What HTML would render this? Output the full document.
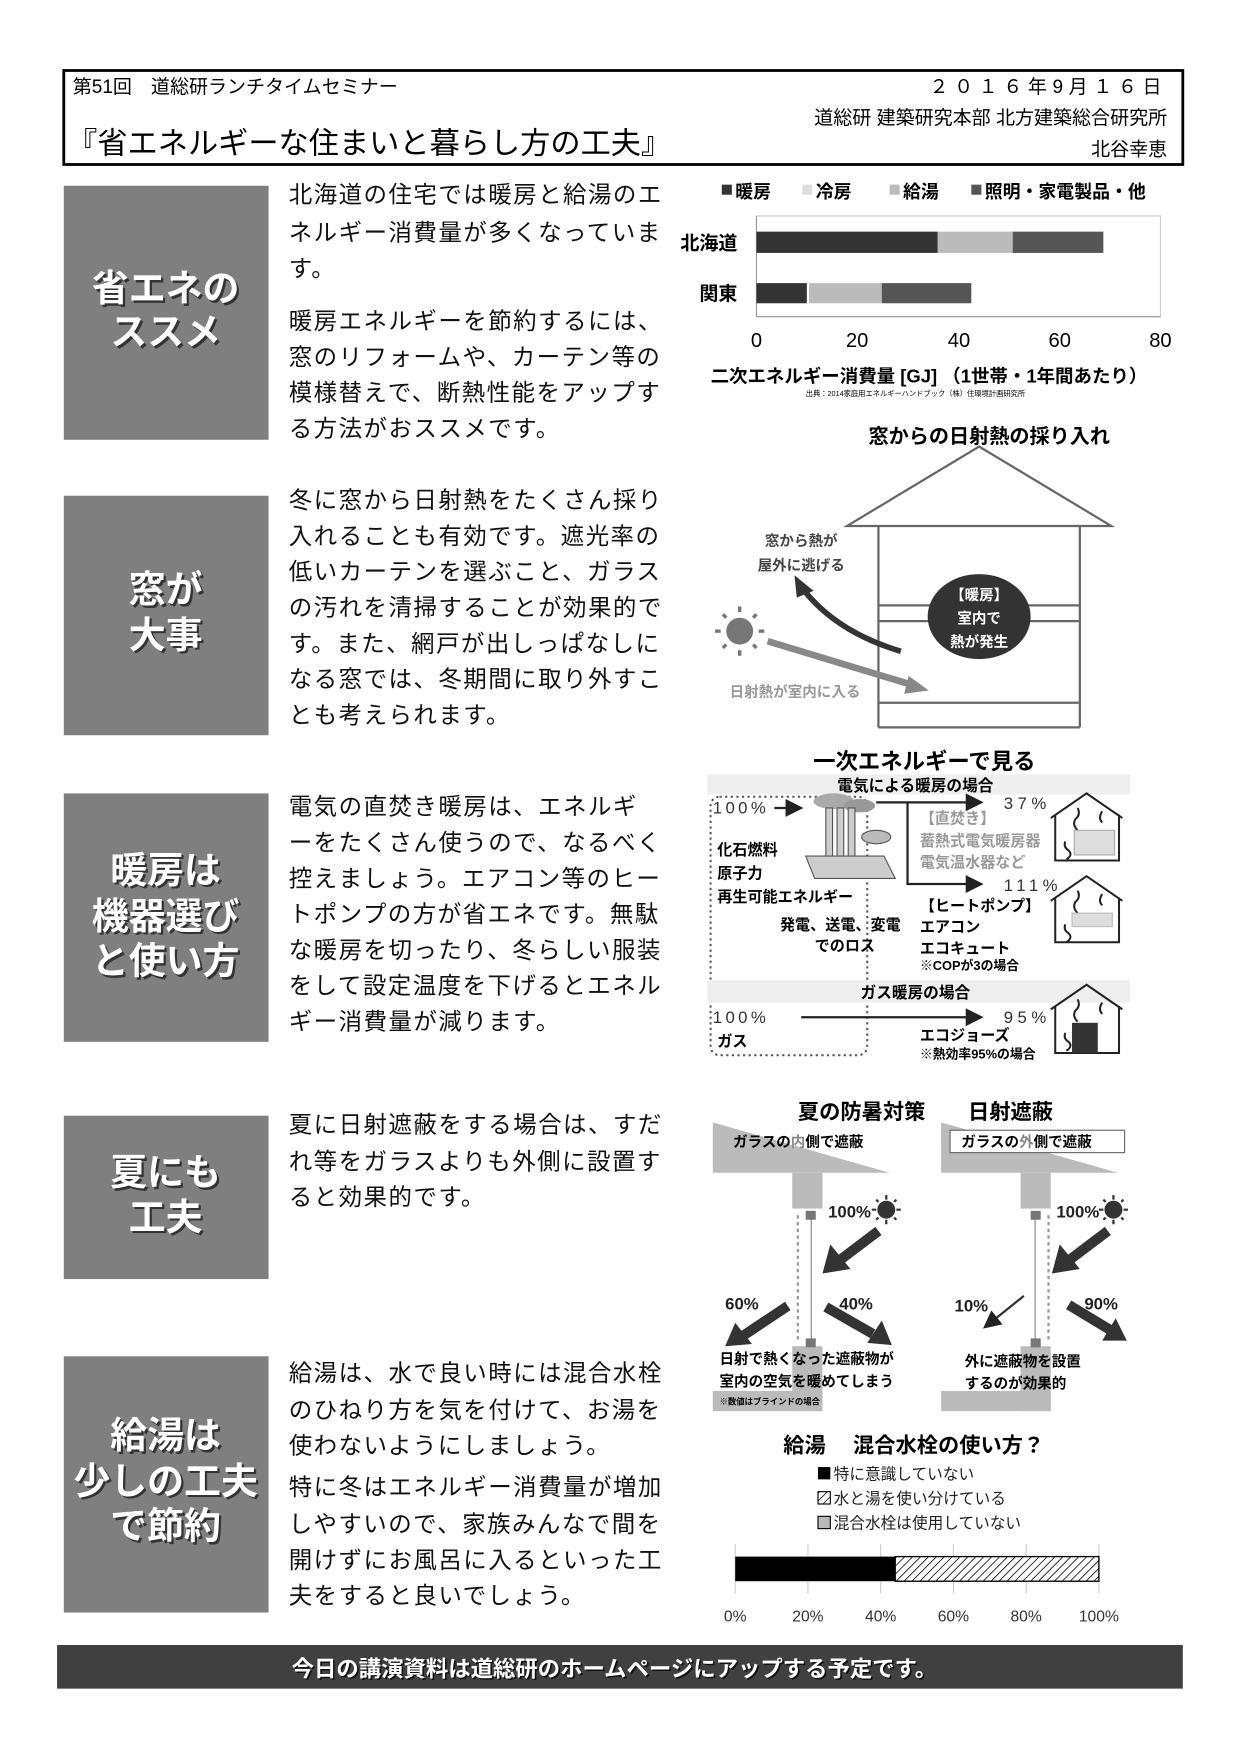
<!DOCTYPE html>
<html><head><meta charset="utf-8"><style>
html,body{margin:0;padding:0;background:#fff;}
svg{display:block;}
text{font-family:"Liberation Sans","Noto Sans CJK JP",sans-serif;}
.b{font-weight:bold;}
.p{font-size:21px;letter-spacing:1.3px;fill:#111;}
.h{font-size:33px;font-weight:bold;fill:#fff;text-anchor:middle;}
.hs{font-size:33px;font-weight:bold;fill:#333;text-anchor:middle;}
</style></head><body>
<svg width="1241" height="1755" viewBox="0 0 1109 1568.3" preserveAspectRatio="none" xmlns="http://www.w3.org/2000/svg">
<defs>
<pattern id="hat" width="5" height="5" patternUnits="userSpaceOnUse" patternTransform="rotate(45)">
<rect width="5" height="5" fill="#fff"/><line x1="0" y1="0" x2="0" y2="5" stroke="#000" stroke-width="1.4"/></pattern>
<marker id="ar" markerWidth="8" markerHeight="8" refX="7" refY="4" orient="auto"><path d="M0,0 L8,4 L0,8 z" fill="#222"/></marker>
</defs>
<!-- header -->
<rect x="57" y="63" width="1000" height="84" fill="none" stroke="#000" stroke-width="2.5"/>
<text x="65" y="83" font-size="17">第51回　道総研ランチタイムセミナー</text>
<text x="1043" y="83" font-size="17" text-anchor="end" letter-spacing="5">２０１６年9月１６日</text>
<text x="1043" y="111" font-size="17" text-anchor="end">道総研 建築研究本部 北方建築総合研究所</text>
<text x="1043" y="139" font-size="17" text-anchor="end">北谷幸恵</text>
<text x="60" y="137" font-size="27">『省エネルギーな住まいと暮らし方の工夫』</text>

<!-- left boxes -->
<g fill="#7f7f7f">
<rect x="57" y="166" width="183" height="227"/>
<rect x="57" y="443" width="183" height="214"/>
<rect x="57" y="709" width="183" height="222"/>
<rect x="57" y="997" width="183" height="146"/>
<rect x="57" y="1212" width="183" height="229"/>
</g>
<g class="hs" transform="translate(2,2)">
<text x="148" y="269">省エネの</text><text x="148" y="308">ススメ</text>
<text x="148" y="538">窓が</text><text x="148" y="579">大事</text>
<text x="148" y="789">暖房は</text><text x="148" y="830">機器選び</text><text x="148" y="870">と使い方</text>
<text x="148" y="1059">夏にも</text><text x="148" y="1099">工夫</text>
<text x="148" y="1294">給湯は</text><text x="148" y="1335">少しの工夫</text><text x="148" y="1375">で節約</text>
</g>
<g class="h">
<text x="148" y="269">省エネの</text><text x="148" y="308">ススメ</text>
<text x="148" y="538">窓が</text><text x="148" y="579">大事</text>
<text x="148" y="789">暖房は</text><text x="148" y="830">機器選び</text><text x="148" y="870">と使い方</text>
<text x="148" y="1059">夏にも</text><text x="148" y="1099">工夫</text>
<text x="148" y="1294">給湯は</text><text x="148" y="1335">少しの工夫</text><text x="148" y="1375">で節約</text>
</g>

<!-- paragraphs -->
<g class="p">
<text x="258" y="181">北海道の住宅では暖房と給湯のエ</text>
<text x="258" y="215">ネルギー消費量が多くなっていま</text>
<text x="258" y="247">す。</text>
<text x="258" y="294">暖房エネルギーを節約するには、</text>
<text x="258" y="326">窓のリフォームや、カーテン等の</text>
<text x="258" y="358">模様替えで、断熱性能をアップす</text>
<text x="258" y="390">る方法がおススメです。</text>

<text x="258" y="454">冬に窓から日射熱をたくさん採り</text>
<text x="258" y="486">入れることも有効です。遮光率の</text>
<text x="258" y="518">低いカーテンを選ぶこと、ガラス</text>
<text x="258" y="550">の汚れを清掃することが効果的で</text>
<text x="258" y="582">す。また、網戸が出しっぱなしに</text>
<text x="258" y="614">なる窓では、冬期間に取り外すこ</text>
<text x="258" y="646">とも考えられます。</text>

<text x="258" y="728">電気の直焚き暖房は、エネルギ</text>
<text x="258" y="760">ーをたくさん使うので、なるべく</text>
<text x="258" y="792">控えましょう。エアコン等のヒー</text>
<text x="258" y="824">トポンプの方が省エネです。無駄</text>
<text x="258" y="856">な暖房を切ったり、冬らしい服装</text>
<text x="258" y="888">をして設定温度を下げるとエネル</text>
<text x="258" y="920">ギー消費量が減ります。</text>

<text x="258" y="1012">夏に日射遮蔽をする場合は、すだ</text>
<text x="258" y="1045">れ等をガラスよりも外側に設置す</text>
<text x="258" y="1077">ると効果的です。</text>

<text x="258" y="1234">給湯は、水で良い時には混合水栓</text>
<text x="258" y="1267">のひねり方を気を付けて、お湯を</text>
<text x="258" y="1299">使わないようにしましょう。</text>
<text x="258" y="1336">特に冬はエネルギー消費量が増加</text>
<text x="258" y="1369">しやすいので、家族みんなで間を</text>
<text x="258" y="1401">開けずにお風呂に入るといった工</text>
<text x="258" y="1433">夫をすると良いでしょう。</text>
</g>

<!-- chart 1 -->
<g font-size="16" class="b">
<rect x="645" y="165" width="9" height="9" fill="#333"/><text x="657" y="177">暖房</text>
<rect x="717" y="165" width="9" height="9" fill="#ddd"/><text x="729" y="177">冷房</text>
<rect x="795" y="165" width="9" height="9" fill="#bbb"/><text x="807" y="177">給湯</text>
<rect x="868" y="165" width="9" height="9" fill="#555"/><text x="880" y="177">照明・家電製品・他</text>
</g>
<rect x="676" y="193" width="361" height="90" fill="none" stroke="#ccc"/>
<line x1="676" y1="193" x2="676" y2="283" stroke="#999"/>
<line x1="676" y1="283" x2="1037" y2="283" stroke="#999"/>
<rect x="676" y="207" width="162" height="19" fill="#333"/>
<rect x="838" y="207" width="67" height="19" fill="#bbb"/>
<rect x="905" y="207" width="81" height="19" fill="#555"/>
<rect x="676" y="253" width="45" height="18" fill="#333"/>
<rect x="723" y="253" width="65" height="18" fill="#bbb"/>
<rect x="788" y="253" width="80" height="18" fill="#555"/>
<g font-size="17" class="b"><text x="608" y="223">北海道</text><text x="625" y="268">関東</text></g>
<g font-size="18" text-anchor="middle"><text x="676" y="310">0</text><text x="766" y="310">20</text><text x="857" y="310">40</text><text x="947" y="310">60</text><text x="1037" y="310">80</text></g>
<text x="635" y="342" font-size="16.5" class="b">二次エネルギー消費量 [GJ] （1世帯・1年間あたり）</text>
<text x="720" y="354" font-size="6.5">出典：2014家庭用エネルギーハンドブック（株）住環境計画研究所</text>

<!-- window heat diagram -->
<text x="884" y="396" font-size="18" class="b" text-anchor="middle">窓からの日射熱の採り入れ</text>
<g stroke="#666" stroke-width="2" fill="none">
<path d="M757,470 L875,399 L993,470 Z"/>
<line x1="785" y1="470" x2="785" y2="650"/><line x1="965" y1="470" x2="965" y2="650"/>
<line x1="785" y1="541" x2="965" y2="541"/><line x1="785" y1="555" x2="965" y2="555"/>
<line x1="785" y1="628" x2="965" y2="628"/><line x1="785" y1="650" x2="965" y2="650"/>
</g>
<ellipse cx="875" cy="551" rx="46" ry="38" fill="#333"/>
<g fill="#fff" font-size="13" class="b" text-anchor="middle"><text x="875" y="536">【暖房】</text><text x="875" y="557">室内で</text><text x="875" y="578">熱が発生</text></g>
<g font-size="13" class="b" fill="#444" text-anchor="middle"><text x="716" y="488">窓から熱が</text><text x="716" y="510">屋外に逃げる</text></g>
<circle cx="661" cy="564" r="12" fill="#777"/>
<g stroke="#777" stroke-width="3"><line x1="661" y1="542" x2="661" y2="547"/><line x1="661" y1="581" x2="661" y2="586"/><line x1="639" y1="564" x2="644" y2="564"/><line x1="678" y1="564" x2="683" y2="564"/><line x1="646" y1="549" x2="649" y2="552"/><line x1="673" y1="576" x2="676" y2="579"/><line x1="646" y1="579" x2="649" y2="576"/><line x1="673" y1="552" x2="676" y2="549"/></g>
<path d="M805,582 Q748,565 718,527" fill="none" stroke="#333" stroke-width="5"/>
<path d="M710,514 L727,528 L712,534 Z" fill="#333"/>
<line x1="686" y1="573" x2="815" y2="612" stroke="#888" stroke-width="6"/>
<path d="M830,617 L812,604 L808,620 Z" fill="#888"/>
<text x="652" y="623" font-size="13" class="b" fill="#999">日射熱が室内に入る</text>

<!-- primary energy -->
<text x="826" y="687" font-size="20" class="b" text-anchor="middle">一次エネルギーで見る</text>
<rect x="632" y="692" width="378" height="18" fill="#eee"/>
<text x="818" y="707" font-size="14" class="b" text-anchor="middle">電気による暖房の場合</text>
<rect x="635" y="712" width="140" height="231" rx="8" fill="none" stroke="#555" stroke-width="1.8" stroke-dasharray="2,3"/>
<text x="637" y="727" font-size="15" letter-spacing="3" fill="#333">100%</text>
<line x1="692" y1="722" x2="716" y2="722" stroke="#222" stroke-width="2" marker-end="url(#ar)"/>
<!-- factory -->
<ellipse cx="745" cy="716" rx="18" ry="7" fill="#aaa"/><ellipse cx="768" cy="720" rx="14" ry="6" fill="#999"/>
<g fill="#ccc" stroke="#555"><rect x="738" y="722" width="6" height="45"/><rect x="748" y="722" width="6" height="45"/><rect x="758" y="722" width="6" height="45"/>
<path d="M720,765 L790,765 L800,785 L728,785 Z"/></g>
<ellipse cx="783" cy="748" rx="13" ry="6" fill="#bbb" stroke="#555"/>
<line x1="783" y1="717" x2="877" y2="717" stroke="#222" stroke-width="2" marker-end="url(#ar)"/>
<path d="M811,717 L811,790 L877,790" fill="none" stroke="#222" stroke-width="2" marker-end="url(#ar)"/>
<text x="897" y="723" font-size="15" letter-spacing="4" fill="#333">37%</text>
<text x="897" y="796" font-size="15" letter-spacing="4" fill="#333">111%</text>
<g font-size="13.5" class="b" fill="#999"><text x="822" y="736">【直焚き】</text><text x="822" y="756">蓄熱式電気暖房器</text><text x="822" y="775">電気温水器など</text></g>
<g font-size="13.5" class="b"><text x="641" y="764">化石燃料</text><text x="641" y="785">原子力</text><text x="641" y="806">再生可能エネルギー</text>
<text x="697" y="831">発電、送電、変電</text><text x="728" y="850">でのロス</text>
<text x="822" y="814">【ヒートポンプ】</text><text x="822" y="833">エアコン</text><text x="822" y="852">エコキュート</text></g>
<text x="822" y="867" font-size="11.5" class="b">※COPが3の場合</text>
<rect x="632" y="876" width="378" height="20" fill="#eee"/>
<text x="818" y="892" font-size="14" class="b" text-anchor="middle">ガス暖房の場合</text>
<text x="637" y="914" font-size="15" letter-spacing="3" fill="#333">100%</text>
<text x="641" y="935" font-size="13.5" class="b">ガス</text>
<line x1="716" y1="909" x2="877" y2="909" stroke="#222" stroke-width="2" marker-end="url(#ar)"/>
<text x="897" y="914" font-size="15" letter-spacing="4" fill="#333">95%</text>
<text x="822" y="930" font-size="13.5" class="b">エコジョーズ</text>
<text x="822" y="946" font-size="11.5" class="b">※熱効率95%の場合</text>
<g fill="none" stroke="#222" stroke-width="1.8">
<path d="M939,731 L971,709 L1003,731 M943,728 L943,769 L1000,769 L1000,728"/>
<path d="M939,805 L971,783 L1003,805 M943,802 L943,842 L1000,842 L1000,802"/>
<path d="M939,902 L971,880 L1003,902 M943,899 L943,941 L1000,941 L1000,899"/>
<path d="M963,722 q3,6 -2,10 q-3,5 2,10 M985,725 q-4,6 0,10 M952,752 q-2,5 3,8 q4,4 -2,8"/>
<path d="M963,796 q3,6 -2,10 q-3,5 2,10 M985,799 q-4,6 0,10 M952,826 q-2,5 3,8 q4,4 -2,8"/>
<path d="M963,893 q3,6 -2,10 q-3,5 2,10 M985,896 q-4,6 0,10 M952,923 q-2,5 3,8 q4,4 -2,8"/>
</g>
<rect x="960" y="742" width="36" height="22" fill="#ddd" stroke="#aaa"/>
<rect x="958" y="816" width="36" height="12" fill="#ddd" stroke="#bbb"/>
<rect x="958" y="914" width="23" height="27" fill="#333"/>

<!-- summer -->
<text x="770" y="1000" font-size="19" class="b" text-anchor="middle">夏の防暑対策</text>
<text x="903" y="1000" font-size="19" class="b" text-anchor="middle">日射遮蔽</text>
<g fill="#bbb">
<path d="M637,1003 L637,1048 L795,1048 Z"/><rect x="708" y="1048" width="27" height="32"/>
<rect x="637" y="1243" width="98" height="18"/><rect x="708" y="1203" width="27" height="58"/>
<path d="M841,1003 L841,1048 L999,1048 Z"/><rect x="912" y="1048" width="27" height="32"/>
<rect x="841" y="1243" width="98" height="18"/><rect x="912" y="1203" width="27" height="58"/>
</g>
<text x="655" y="1025" font-size="13" class="b">ガラスの<tspan fill="#888">内</tspan>側で遮蔽</text>
<rect x="849" y="1010" width="156" height="20" fill="#fff" stroke="#666"/>
<text x="859" y="1025" font-size="13" class="b">ガラスの<tspan fill="#888">外</tspan>側で遮蔽</text>
<g stroke="#999" stroke-width="2">
<line x1="713" y1="1086" x2="713" y2="1200" stroke-dasharray="3,3"/><line x1="725" y1="1086" x2="725" y2="1200" stroke-width="1.2"/>
<line x1="937" y1="1086" x2="937" y2="1200" stroke-dasharray="3,3"/><line x1="925" y1="1086" x2="925" y2="1200" stroke-width="1.2"/>
</g>
<g fill="#777"><rect x="720" y="1082" width="9" height="8"/><rect x="720" y="1196" width="9" height="8"/><rect x="921" y="1082" width="9" height="8"/><rect x="921" y="1196" width="9" height="8"/></g>
<g font-size="15" class="b" fill="#222">
<text x="740" y="1088">100%</text><text x="944" y="1088">100%</text>
<text x="648" y="1170">60%</text><text x="750" y="1170">40%</text>
<text x="853" y="1172">10%</text><text x="969" y="1170">90%</text></g>
<g fill="#333"><circle cx="792" cy="1081" r="8"/><circle cx="995" cy="1081" r="8"/></g>
<g stroke="#333" stroke-width="2">
<path d="M792,1068v4M792,1090v4M779,1081h4M801,1081h4M783,1072l2,2M799,1088l2,2M783,1090l2,-2M799,1074l2,-2"/>
<path d="M995,1068v4M995,1090v4M982,1081h4M1004,1081h4M986,1072l2,2M1002,1088l2,2M986,1090l2,-2M1002,1074l2,-2"/>
</g>
<g stroke="#333" stroke-width="9" fill="none">
<line x1="785" y1="1100" x2="748" y2="1128"/><line x1="990" y1="1100" x2="953" y2="1128"/>
<line x1="704" y1="1167" x2="665" y2="1193"/><line x1="738" y1="1168" x2="780" y2="1192"/><line x1="955" y1="1166" x2="993" y2="1189"/>
</g>
<g fill="#333">
<path d="M735,1138 L742,1112 L760,1134 Z"/><path d="M940,1138 L947,1112 L965,1134 Z"/>
<path d="M648,1203 L657,1182 L672,1201 Z"/><path d="M797,1202 L775,1200 L788,1180 Z"/><path d="M1007,1198 L985,1198 L997,1178 Z"/>
</g>
<line x1="915" y1="1158" x2="880" y2="1186" stroke="#333" stroke-width="2" marker-end="url(#ar)"/>
<g font-size="13" class="b"><text x="643" y="1219">日射で熱くなった遮蔽物が</text><text x="643" y="1239">室内の空気を暖めてしまう</text>
<text x="862" y="1221">外に遮蔽物を設置</text><text x="862" y="1241">するのが効果的</text></g>
<text x="643" y="1255" font-size="7.5" class="b">※数値はブラインドの場合</text>

<!-- water chart -->
<text x="700" y="1298" font-size="19" class="b">給湯　 混合水栓の使い方？</text>
<rect x="731" y="1311" width="11" height="11" fill="#000"/>
<rect x="731" y="1333" width="11" height="11" fill="url(#hat)" stroke="#000"/>
<rect x="731" y="1355" width="11" height="11" fill="#bbb" stroke="#000"/>
<g font-size="14" fill="#222"><text x="745" y="1322">特に意識していない</text><text x="745" y="1344">水と湯を使い分けている</text><text x="745" y="1366">混合水栓は使用していない</text></g>
<g stroke="#ccc"><line x1="657" y1="1380" x2="657" y2="1424"/><line x1="722" y1="1380" x2="722" y2="1424"/><line x1="787" y1="1380" x2="787" y2="1424"/><line x1="852" y1="1380" x2="852" y2="1424"/><line x1="917" y1="1380" x2="917" y2="1424"/><line x1="982" y1="1380" x2="982" y2="1424"/></g>
<rect x="800" y="1391" width="182" height="22" fill="url(#hat)" stroke="#000" stroke-width="1.2"/>
<rect x="657" y="1391" width="143" height="22" fill="#000"/>
<g font-size="14" fill="#333" text-anchor="middle"><text x="657" y="1449">0%</text><text x="722" y="1449">20%</text><text x="787" y="1449">40%</text><text x="852" y="1449">60%</text><text x="917" y="1449">80%</text><text x="982" y="1449">100%</text></g>

<!-- footer -->
<rect x="51" y="1470" width="1006" height="39" fill="#404040"/>
<text x="549" y="1498" font-size="20" class="b" fill="#111" text-anchor="middle" transform="translate(1.5,1.5)">今日の講演資料は道総研のホームページにアップする予定です。</text>
<text x="549" y="1498" font-size="20" class="b" fill="#fff" text-anchor="middle">今日の講演資料は道総研のホームページにアップする予定です。</text>
</svg>
</body></html>
